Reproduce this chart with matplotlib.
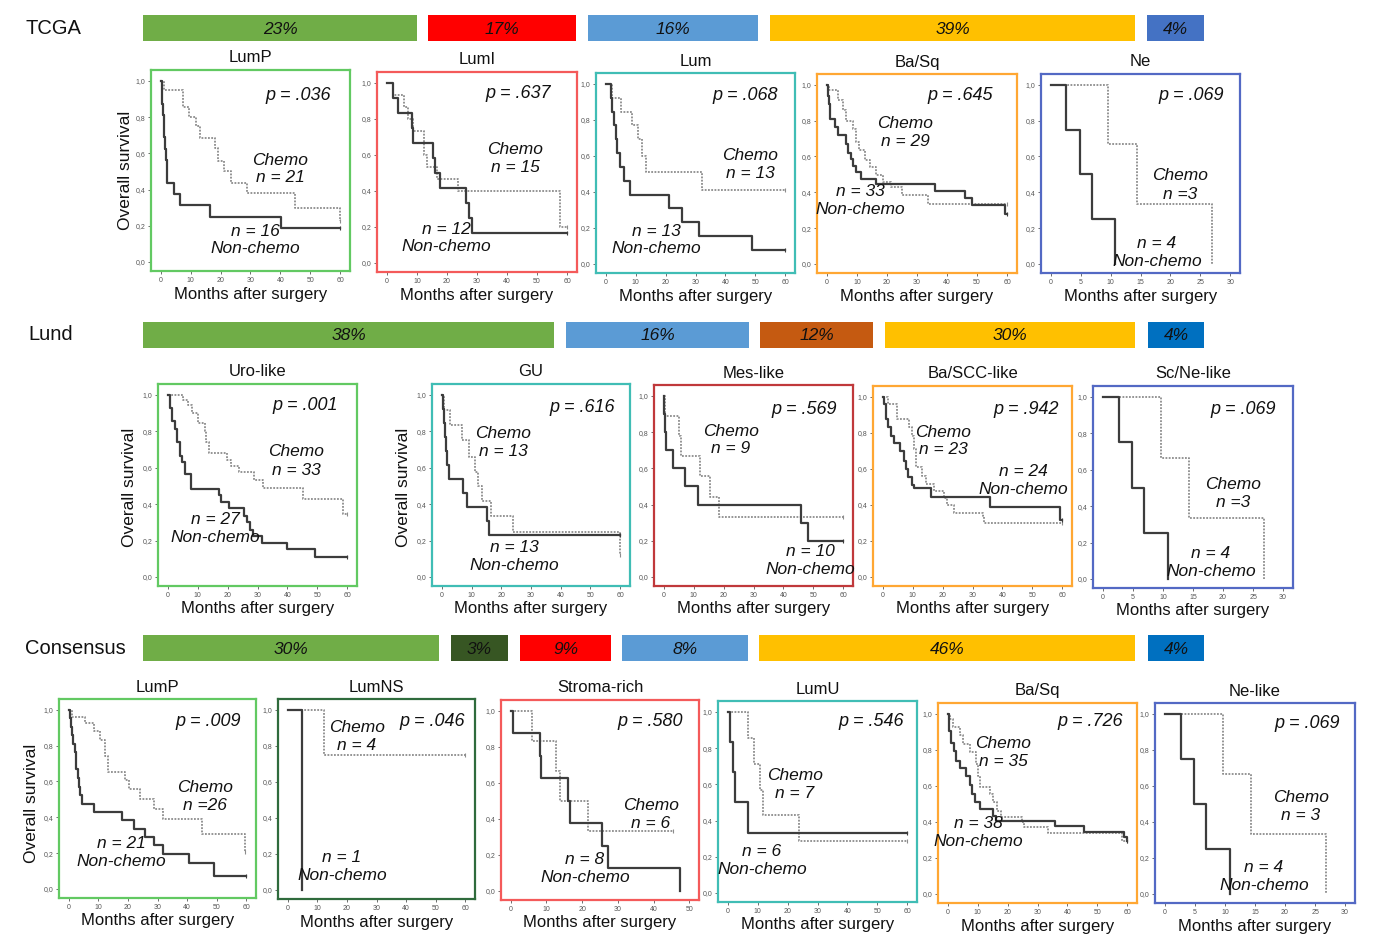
import matplotlib
matplotlib.use("Agg")
import matplotlib.pyplot as plt

plt.rcParams['font.family'] = ['Liberation Sans', 'DejaVu Sans']

W, H = 1374, 951

# ---------------- data ----------------
tcga_pct = ["23%", "17%", "16%", "39%", "4%"]
lund_pct = ["38%", "16%", "12%", "30%", "4%"]
cons_pct = ["30%", "3%", "9%", "8%", "46%", "4%"]

tcga_titles = ["LumP", "LumI", "Lum", "Ba/Sq", "Ne"]
lund_titles = ["Uro-like", "GU", "Mes-like", "Ba/SCC-like", "Sc/Ne-like"]
cons_titles = ["LumP", "LumNS", "Stroma-rich", "LumU", "Ba/Sq", "Ne-like"]

tcga_p = [".036", ".637", ".068", ".645", ".069"]
lund_p = [".001", ".616", ".569", ".942", ".069"]
cons_p = [".009", ".046", ".580", ".546", ".726", ".069"]

tcga_n_chemo = ["n = 21", "n = 15", "n = 13", "n = 29", "n =3"]
tcga_n_non = ["n = 16", "n = 12", "n = 13", "n = 33", "n = 4"]
lund_n_chemo = ["n = 33", "n = 13", "n = 9", "n = 23", "n =3"]
lund_n_non = ["n = 27", "n = 13", "n = 10", "n = 24", "n = 4"]
cons_n_chemo = ["n =26", "n = 4", "n = 6", "n = 7", "n = 35", "n = 3"]
cons_n_non = ["n = 21", "n = 1", "n = 8", "n = 6", "n = 38", "n = 4"]

# Kaplan-Meier step curves: time (months) and survival after each step
tcga_lump_nc_t = [0, 0.3, 0.5, 0.7, 0.9, 1.1, 1.4, 1.7, 2.0, 2.2, 4.4, 6.5, 16.6, 40.2, 60]
tcga_lump_nc_s = [1, .9375, .875, .8125, .75, .6875, .625, .5625, .5, .4375, .375, .3125, .25, .1875, .1875]
tcga_lump_c_t = [0, 1.0, 7.3, 9.5, 11.7, 13.0, 18.0, 19.2, 21.0, 23.5, 28.7, 44.9, 59.8]
tcga_lump_c_s = [1, .952, .857, .80, .75, .686, .627, .56, .50, .437, .378, .30, .227]

tcga_lumi_nc_t = [0, 1.9, 3.6, 8.2, 8.6, 15.3, 16.1, 17.7, 26.2, 27.5, 28.3, 60]
tcga_lumi_nc_s = [1, .917, .833, .75, .667, .583, .5, .417, .333, .25, .167, .167]
tcga_lumi_c_t = [0, 2.0, 5.8, 7.0, 8.8, 12.2, 13.4, 16.6, 23.7, 57.6, 60]
tcga_lumi_c_s = [1, .933, .867, .80, .733, .60, .533, .467, .40, .20, .20]

tcga_lum_nc_t = [0, 1.7, 2.0, 2.8, 3.3, 3.6, 4.8, 6.0, 8.0, 21.2, 25.4, 31.2, 49.0, 60]
tcga_lum_nc_s = [1, .923, .846, .769, .692, .615, .538, .462, .385, .308, .231, .154, .077, .077]
tcga_lum_c_t = [0, 2.2, 5.0, 8.9, 10.6, 12.0, 13.4, 32.1, 60]
tcga_lum_c_s = [1, .923, .846, .769, .692, .60, .513, .41, .41]

tcga_basq_nc_t = [0, 0.4, 0.7, 1.1, 2.6, 3.7, 6.2, 7.0, 8.1, 8.7, 9.8, 11.5, 16.5, 36.0, 46.0, 48.3, 59.2, 60]
tcga_basq_nc_s = [1, .94, .894, .81, .764, .717, .67, .62, .587, .545, .513, .476, .448, .41, .368, .327, .277, .277]
tcga_basq_c_t = [0, 0.7, 3.7, 5.4, 6.5, 8.7, 9.8, 10.7, 12.6, 14.3, 16.5, 18.7, 21.5, 24.9, 33.8, 60]
tcga_basq_c_s = [1, .968, .913, .857, .80, .755, .68, .634, .578, .54, .494, .46, .43, .383, .336, .336]

ne_nc_t = [0, 2.6, 4.9, 6.9, 10.8]
ne_nc_s = [1, .75, .5, .25, 0]
ne_c_t = [0, 9.6, 14.4, 26.9]
ne_c_s = [1, .667, .333, 0]

lund_uro_nc_t = [0, 0.6, 1.4, 2.3, 3.2, 4.0, 4.6, 5.8, 7.7, 17.0, 17.8, 20.4, 25.6, 26.5, 27.6, 28.5, 31.4, 40.0, 49.3, 60]
lund_uro_nc_s = [1, .926, .855, .815, .74, .667, .63, .565, .485, .448, .41, .376, .333, .30, .259, .226, .189, .152, .107, .107]
lund_uro_c_t = [0, 5.2, 6.9, 8.1, 10.0, 12.3, 12.9, 13.8, 19.8, 21.2, 23.9, 28.7, 31.7, 45.2, 58.5, 60]
lund_uro_c_s = [1, .97, .944, .90, .846, .80, .74, .68, .64, .61, .574, .533, .49, .426, .343, .343]

lund_gu_nc_t = [0, 0.5, 0.8, 1.1, 1.5, 1.9, 2.4, 7.0, 8.4, 15.3, 15.9, 60]
lund_gu_nc_s = [1, .923, .846, .769, .692, .615, .538, .462, .385, .308, .231, .231]
lund_gu_c_t = [0, 0.9, 2.7, 6.7, 9.0, 11.1, 12.2, 13.6, 16.7, 23.8, 59.8]
lund_gu_c_s = [1, .917, .835, .752, .66, .578, .50, .417, .333, .248, .123]

lund_mes_nc_t = [0, 0.2, 0.45, 0.7, 3.0, 7.2, 11.3, 45.8, 48.3, 60]
lund_mes_nc_s = [1, .9, .8, .7, .6, .5, .4, .3, .2, .2]
lund_mes_c_t = [0, 0.4, 4.9, 5.8, 12.2, 15.6, 18.4, 60]
lund_mes_c_s = [1, .889, .778, .667, .556, .444, .333, .333]

lund_bascc_nc_t = [0, 0.3, 0.9, 1.8, 2.8, 3.7, 5.9, 7.1, 7.6, 8.5, 9.6, 10.4, 16.0, 35.9, 59.2, 60]
lund_bascc_nc_s = [1, .958, .876, .834, .784, .742, .70, .646, .60, .554, .51, .493, .446, .39, .317, .317]
lund_bascc_c_t = [0, 1.8, 4.8, 8.7, 9.6, 10.4, 11.0, 13.2, 14.3, 17.2, 20.5, 21.6, 23.9, 33.4, 34.0, 60]
lund_bascc_c_s = [1, .96, .876, .83, .784, .71, .612, .563, .517, .48, .437, .397, .354, .341, .30, .30]

cons_lump_nc_t = [0, 0.3, 0.8, 1.2, 1.6, 2.0, 2.3, 2.6, 3.0, 3.4, 3.9, 4.5, 8.4, 18.0, 22.0, 25.9, 28.7, 31.9, 40.5, 49.0, 60]
cons_lump_nc_s = [1, .953, .906, .857, .81, .762, .714, .667, .619, .571, .523, .476, .43, .383, .336, .29, .243, .196, .144, .075, .075]
cons_lump_c_t = [0, 1.1, 5.6, 8.4, 10.5, 12.4, 13.2, 19.1, 20.3, 24.0, 28.7, 32.0, 45.0, 59.7]
cons_lump_c_s = [1, .962, .925, .879, .832, .742, .654, .607, .56, .505, .449, .389, .308, .206]

cons_lumns_nc_t = [0, 4.7]
cons_lumns_nc_s = [1, 0]
cons_lumns_c_t = [0, 12.2, 60]
cons_lumns_c_s = [1, .75, .75]

cons_stroma_nc_t = [0, 0.5, 8.1, 8.4, 15.9, 16.5, 25.7, 27.3, 47.5]
cons_stroma_nc_s = [1, .875, .75, .625, .5, .375, .25, .125, 0]
cons_stroma_c_t = [0, 5.8, 12.7, 13.8, 21.7, 45.4]
cons_stroma_c_s = [1, .833, .667, .5, .333, .333]

cons_lumu_nc_t = [0, 0.6, 1.7, 2.3, 6.8, 60]
cons_lumu_nc_s = [1, .833, .667, .5, .333, .333]
cons_lumu_c_t = [0, 6.7, 8.9, 10.6, 11.7, 23.8, 60]
cons_lumu_c_s = [1, .857, .714, .571, .429, .286, .286]

cons_basq_nc_t = [0, 0.3, 1.0, 2.0, 2.8, 3.9, 6.2, 7.3, 8.1, 9.0, 10.7, 15.1, 16.0, 35.9, 45.6, 58.9, 59.8]
cons_basq_nc_s = [1, .907, .84, .796, .74, .70, .654, .607, .556, .51, .472, .435, .407, .38, .343, .315, .296]
cons_basq_c_t = [0, 0.6, 1.7, 3.9, 5.0, 7.3, 9.5, 10.1, 10.7, 14.0, 15.1, 16.3, 17.9, 24.7, 25.4, 33.6, 58.3, 60]
cons_basq_c_s = [1, .972, .926, .88, .833, .787, .722, .657, .596, .556, .51, .463, .43, .398, .37, .337, .296, .296]

# ---------------- layout / style ----------------
GREEN, RED, LBLUE, YEL, BLUE1, BLUE2 = "#70AD47", "#FF0000", "#5B9BD5", "#FFC000", "#4472C4", "#0070C0"
BROWN, DGREEN = "#C55A11", "#375623"

bar_rows = [
    dict(label="TCGA", lx=25, y0=15, y1=41, pct=tcga_pct,
         spans=[(143, 417), (428, 576), (588, 758), (770, 1135), (1147, 1204)],
         colors=[GREEN, RED, LBLUE, YEL, BLUE1]),
    dict(label="Lund", lx=28, y0=322, y1=348, pct=lund_pct,
         spans=[(143, 554), (566, 749), (760, 873), (885, 1135), (1148, 1204)],
         colors=[GREEN, LBLUE, BROWN, YEL, BLUE2]),
    dict(label="Consensus", lx=25, y0=635, y1=661, pct=cons_pct,
         spans=[(143, 439), (451, 508), (520, 611), (622, 748), (759, 1135), (1148, 1204)],
         colors=[GREEN, DGREEN, RED, LBLUE, YEL, BLUE2]),
]

B_GREEN, B_RED, B_TEAL, B_ORANGE, B_BLUE = "#62C962", "#F45A5A", "#40BDB5", "#FFA733", "#5369C4"
B_DRED, B_DGREEN = "#C0393B", "#2F6B3C"

panels = [
    # TCGA
    dict(box=(151, 70, 350, 271), title=tcga_titles[0], col=B_GREEN, xmax=60, xstep=10,
         nc=(tcga_lump_nc_t, tcga_lump_nc_s), c=(tcga_lump_c_t, tcga_lump_c_s),
         p=tcga_p[0], pp=(298, 95), cp=(280, 160), nc_lab=tcga_n_chemo[0], np_=(255, 231), nn=tcga_n_non[0],
         ylab=(125, 170)),
    dict(box=(377, 72, 577, 272), title=tcga_titles[1], col=B_RED, xmax=60, xstep=10,
         nc=(tcga_lumi_nc_t, tcga_lumi_nc_s), c=(tcga_lumi_c_t, tcga_lumi_c_s),
         p=tcga_p[1], pp=(518, 93), cp=(515, 150), nc_lab=tcga_n_chemo[1], np_=(446, 229), nn=tcga_n_non[1]),
    dict(box=(596, 73, 795, 273), title=tcga_titles[2], col=B_TEAL, xmax=60, xstep=10,
         nc=(tcga_lum_nc_t, tcga_lum_nc_s), c=(tcga_lum_c_t, tcga_lum_c_s),
         p=tcga_p[2], pp=(745, 95), cp=(750, 155), nc_lab=tcga_n_chemo[2], np_=(656, 231), nn=tcga_n_non[2]),
    dict(box=(817, 74, 1017, 273), title=tcga_titles[3], col=B_ORANGE, xmax=60, xstep=10,
         nc=(tcga_basq_nc_t, tcga_basq_nc_s), c=(tcga_basq_c_t, tcga_basq_c_s),
         p=tcga_p[3], pp=(960, 95), cp=(905, 123), nc_lab=tcga_n_chemo[3], np_=(860, 191), nn=tcga_n_non[3]),
    dict(box=(1041, 74, 1240, 273), title=tcga_titles[4], col=B_BLUE, xmax=30, xstep=5,
         nc=(ne_nc_t, ne_nc_s), c=(ne_c_t, ne_c_s),
         p=tcga_p[4], pp=(1191, 96), cp=(1180, 176), nc_lab=tcga_n_chemo[4], np_=(1157, 243), nn=tcga_n_non[4]),
    # Lund
    dict(box=(158, 384, 357, 586), title=lund_titles[0], col=B_GREEN, xmax=60, xstep=10,
         nc=(lund_uro_nc_t, lund_uro_nc_s), c=(lund_uro_c_t, lund_uro_c_s),
         p=lund_p[0], pp=(305, 405), cp=(296, 452), nc_lab=lund_n_chemo[0], np_=(215, 520), nn=lund_n_non[0],
         ylab=(130, 487)),
    dict(box=(432, 384, 630, 586), title=lund_titles[1], col=B_TEAL, xmax=60, xstep=10,
         nc=(lund_gu_nc_t, lund_gu_nc_s), c=(lund_gu_c_t, lund_gu_c_s),
         p=lund_p[1], pp=(582, 408), cp=(503, 434), nc_lab=lund_n_chemo[1], np_=(514, 547), nn=lund_n_non[1],
         ylab=(404, 487)),
    dict(box=(654, 385, 853, 586), title=lund_titles[2], col=B_DRED, xmax=60, xstep=10,
         nc=(lund_mes_nc_t, lund_mes_nc_s), c=(lund_mes_c_t, lund_mes_c_s),
         p=lund_p[2], pp=(804, 409), cp=(731, 431), nc_lab=lund_n_chemo[2], np_=(810, 551), nn=lund_n_non[2]),
    dict(box=(873, 386, 1072, 586), title=lund_titles[3], col=B_ORANGE, xmax=60, xstep=10,
         nc=(lund_bascc_nc_t, lund_bascc_nc_s), c=(lund_bascc_c_t, lund_bascc_c_s),
         p=lund_p[3], pp=(1026, 409), cp=(943, 432), nc_lab=lund_n_chemo[3], np_=(1023, 472), nn=lund_n_non[3]),
    dict(box=(1093, 386, 1293, 588), title=lund_titles[4], col=B_BLUE, xmax=30, xstep=5,
         nc=(ne_nc_t, ne_nc_s), c=(ne_c_t, ne_c_s),
         p=lund_p[4], pp=(1243, 409), cp=(1233, 484), nc_lab=lund_n_chemo[4], np_=(1211, 554), nn=lund_n_non[4]),
    # Consensus
    dict(box=(59, 699, 256, 898), title=cons_titles[0], col=B_GREEN, xmax=60, xstep=10,
         nc=(cons_lump_nc_t, cons_lump_nc_s), c=(cons_lump_c_t, cons_lump_c_s),
         p=cons_p[0], pp=(208, 722), cp=(205, 787), nc_lab=cons_n_chemo[0], np_=(121, 843), nn=cons_n_non[0],
         ylab=(32, 803)),
    dict(box=(278, 699, 475, 899), title=cons_titles[1], col=B_DGREEN, xmax=60, xstep=10,
         nc=(cons_lumns_nc_t, cons_lumns_nc_s), c=(cons_lumns_c_t, cons_lumns_c_s),
         p=cons_p[1], pp=(432, 722), cp=(357, 727), nc_lab=cons_n_chemo[1], np_=(342, 858), nn=cons_n_non[1]),
    dict(box=(501, 700, 699, 900), title=cons_titles[2], col=B_RED, xmax=50, xstep=10,
         nc=(cons_stroma_nc_t, cons_stroma_nc_s), c=(cons_stroma_c_t, cons_stroma_c_s),
         p=cons_p[2], pp=(650, 722), cp=(651, 805), nc_lab=cons_n_chemo[2], np_=(585, 860), nn=cons_n_non[2]),
    dict(box=(718, 701, 917, 902), title=cons_titles[3], col=B_TEAL, xmax=60, xstep=10,
         nc=(cons_lumu_nc_t, cons_lumu_nc_s), c=(cons_lumu_c_t, cons_lumu_c_s),
         p=cons_p[3], pp=(871, 722), cp=(795, 775), nc_lab=cons_n_chemo[3], np_=(762, 852), nn=cons_n_non[3]),
    dict(box=(938, 703, 1137, 903), title=cons_titles[4], col=B_ORANGE, xmax=60, xstep=10,
         nc=(cons_basq_nc_t, cons_basq_nc_s), c=(cons_basq_c_t, cons_basq_c_s),
         p=cons_p[4], pp=(1090, 722), cp=(1003, 743), nc_lab=cons_n_chemo[4], np_=(978, 824), nn=cons_n_non[4]),
    dict(box=(1155, 703, 1355, 903), title=cons_titles[5], col=B_BLUE, xmax=30, xstep=5,
         nc=(ne_nc_t, ne_nc_s), c=(ne_c_t, ne_c_s),
         p=cons_p[5], pp=(1307, 723), cp=(1301, 797), nc_lab=cons_n_chemo[5], np_=(1264, 867), nn=cons_n_non[5]),
]

# ---------------- drawing ----------------
fig = plt.figure(figsize=(W / 100, H / 100), dpi=100)
fig.patch.set_facecolor("white")


def ftext(x, y, s, **kw):
    kw.setdefault("ha", "center")
    kw.setdefault("va", "center")
    kw.setdefault("color", "#111111")
    fig.text(x / W, 1 - y / H, s, **kw)


bax = fig.add_axes([0, 0, 1, 1])
bax.set_xlim(0, W)
bax.set_ylim(H, 0)
bax.axis("off")
bax.patch.set_alpha(0)
for row in bar_rows:
    yc = (row["y0"] + row["y1"]) / 2
    hgt = row["y1"] - row["y0"]
    for (a, b), col, pct in zip(row["spans"], row["colors"], row["pct"]):
        bax.barh(yc, b - a, left=a, height=hgt, color=col, edgecolor="none")
        bax.text((a + b) / 2, yc + 1, pct, ha="center", va="center", fontsize=12.5,
                 style="italic", color="#111111")
    bax.text(row["lx"], yc, row["label"], ha="left", va="center", fontsize=14.5, color="#111111")

for P in panels:
    l, t, r, b = P["box"]
    ax = fig.add_axes([l / W, 1 - b / H, (r - l) / W, (b - t) / H])
    xm = P["xmax"]
    ax.set_xlim(-0.055 * xm, 1.055 * xm)
    ax.set_ylim(-0.05, 1.06)
    for sp in ax.spines.values():
        sp.set_color(P["col"])
        sp.set_linewidth(1.6)
    yt = [0, 0.2, 0.4, 0.6, 0.8, 1.0]
    ax.set_yticks(yt)
    ax.set_yticklabels([f"{v:.1f}".replace(".", ",") for v in yt])
    ax.set_xticks(list(range(0, xm + 1, P["xstep"])))
    ax.tick_params(labelsize=5, length=2.5, width=0.6, colors="#555555", pad=1.5)

    ct, cs = P["c"]
    nt, ns = P["nc"]
    ax.step(ct, cs, where="post", color="#8c8c8c", lw=1.3, linestyle=(0, (1, 0.8)))
    ax.step(nt, ns, where="post", color="#3c3c3c", lw=1.6)
    if cs[-1] > 0:
        ax.plot([ct[-1]], [cs[-1]], marker="|", ms=3, color="#8c8c8c", mew=0.8)
    if ns[-1] > 0:
        ax.plot([nt[-1]], [ns[-1]], marker="|", ms=3, color="#3c3c3c", mew=0.8)

    cx = (l + r) / 2
    ftext(cx, t - 12, P["title"], fontsize=12)
    ftext(cx, b + 23, "Months after surgery", fontsize=12)
    if "ylab" in P:
        ftext(P["ylab"][0], P["ylab"][1], "Overall survival", rotation=90, fontsize=12.5)

    px, py = P["pp"]
    ftext(px, py, "p = " + P["p"], fontsize=13, style="italic")
    cxp, cyp = P["cp"]
    ftext(cxp, cyp, "Chemo", fontsize=12.5, style="italic")
    ftext(cxp, cyp + 18, P["nc_lab"], fontsize=12.5, style="italic")
    nxp, nyp = P["np_"]
    ftext(nxp, nyp, P["nn"], fontsize=12.5, style="italic")
    ftext(nxp, nyp + 18, "Non-chemo", fontsize=12.5, style="italic")

fig.savefig("out.png", dpi=100, facecolor="white")
